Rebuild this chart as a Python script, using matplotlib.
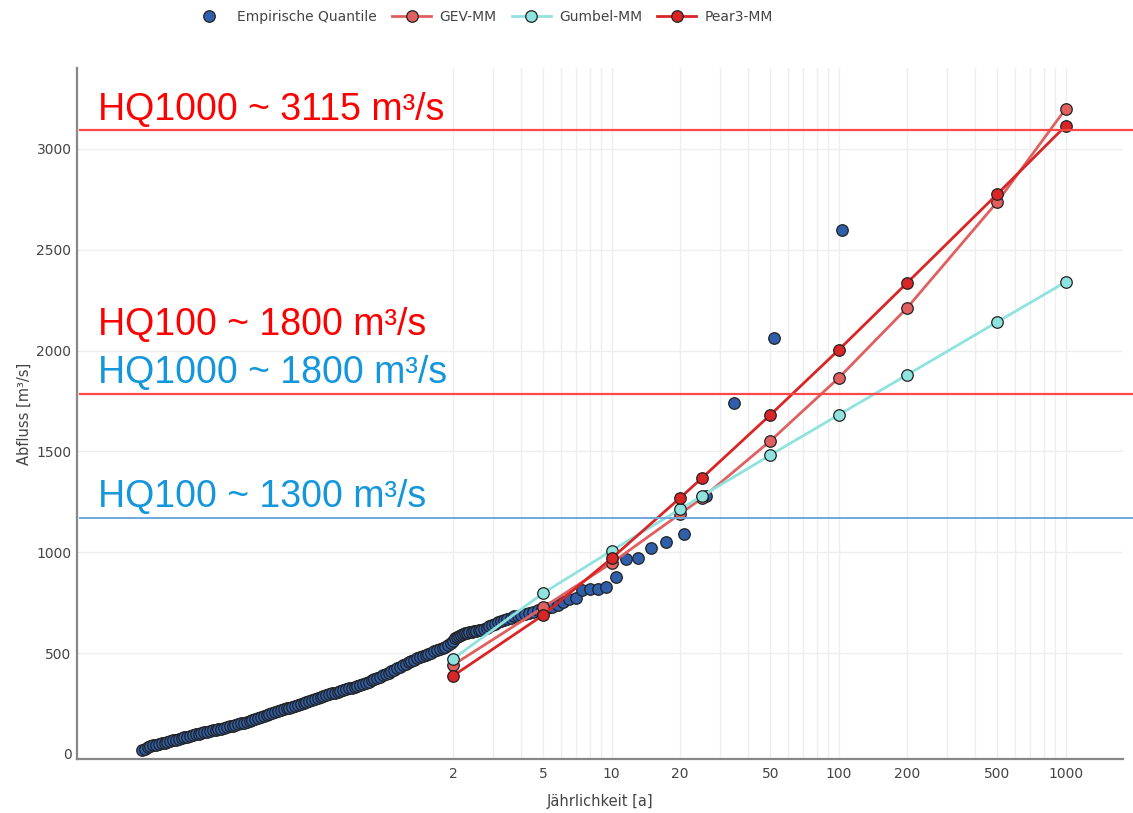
import matplotlib
matplotlib.use("Agg")
import matplotlib.pyplot as plt
from matplotlib.lines import Line2D

# ---------------- data ----------------
# empirical quantiles (return period [a], discharge [m3/s]) read from the chart
emp_T = [0.0851, 0.0876, 0.0902, 0.0928, 0.0955, 0.0983, 0.1012, 0.1041, 0.1072, 0.1103,
         0.1135, 0.1168, 0.1202, 0.1237, 0.1274, 0.1311, 0.1349, 0.1389, 0.1429, 0.1471,
         0.1514, 0.1558, 0.1603, 0.1650, 0.1698, 0.1748, 0.1799, 0.1851, 0.1905, 0.1961,
         0.2018, 0.2077, 0.2138, 0.2200, 0.2265, 0.2331, 0.2399, 0.2469, 0.2541, 0.2615,
         0.2692, 0.2770, 0.2851, 0.2934, 0.3020, 0.3108, 0.3199, 0.3292, 0.3388, 0.3487,
         0.3589, 0.3694, 0.3802, 0.3913, 0.4027, 0.4145, 0.4266, 0.4391, 0.4519, 0.4651,
         0.4786, 0.4926, 0.5070, 0.5218, 0.5370, 0.5527, 0.5689, 0.5855, 0.6026, 0.6202,
         0.6383, 0.6569, 0.6761, 0.6958, 0.7161, 0.7370, 0.7586, 0.7807, 0.8035, 0.8270,
         0.8511, 0.8760, 0.9016, 0.9279, 0.9550, 0.9829, 1.0116, 1.0412, 1.0715, 1.1029,
         1.135, 1.168, 1.202, 1.237, 1.274, 1.311, 1.349, 1.389, 1.429, 1.471,
         1.514, 1.558, 1.603, 1.650, 1.698, 1.748, 1.799, 1.852, 1.905, 1.952,
         2.0, 2.039, 2.08, 2.122, 2.167, 2.213, 2.261, 2.311, 2.364, 2.419,
         2.476, 2.537, 2.6, 2.667, 2.737, 2.811, 2.889, 2.971, 3.059, 3.152,
         3.25, 3.355, 3.467, 3.586, 3.714, 3.852, 4.0, 4.16, 4.333, 4.522,
         4.727, 4.952, 5.2, 5.474, 5.778, 6.118, 6.5, 6.933, 7.43, 8.0,
         8.67, 9.45, 10.4, 11.56, 13.0, 14.86, 17.33, 20.8, 26.0, 34.67,
         52.0, 104.0]
emp_Q = [20, 27, 33, 38, 42, 45, 48, 52, 55, 59,
         63, 67, 71, 75, 78, 82, 86, 90, 93, 97,
         101, 104, 107, 111, 114, 117, 120, 123, 126, 130,
         133, 137, 140, 144, 148, 152, 155, 159, 163, 167,
         171, 176, 181, 186, 191, 196, 201, 207, 212, 217,
         221, 226, 230, 235, 239, 244, 248, 253, 257, 262,
         267, 272, 276, 281, 285, 290, 295, 300, 304, 308,
         312, 316, 320, 325, 329, 333, 337, 343, 348, 354,
         359, 365, 370, 376, 382, 389, 395, 403, 410, 418,
         425, 433, 440, 447, 454, 461, 468, 474, 480, 486,
         492, 498, 503, 508, 513, 519, 524, 532, 540, 550,
         560, 575, 582, 587, 592, 596, 599, 602, 604, 606,
         608, 610, 613, 615, 620, 626, 632, 638, 645, 652,
         658, 664, 670, 676, 682, 686, 690, 694, 698, 703,
         712, 719, 724, 729, 740, 754, 768, 773, 813, 818,
         818, 828, 877, 967, 972, 1021, 1051, 1091, 1279, 1740,
         2062, 2598]

T_model = [2, 5, 10, 20, 25, 50, 100, 200, 500, 1000]
gev_mm = [441, 727, 947, 1190, 1268, 1552, 1864, 2211, 2737, 3198]
gumbel_mm = [471, 798, 1008, 1213, 1279, 1482, 1681, 1879, 2142, 2340]
pear3_mm = [387, 689, 970, 1269, 1368, 1681, 2003, 2335, 2776, 3114]

hlines_red = [3094, 1785]
hline_blue = 1172

annotations = [
    ("HQ1000 ~ 3115 m³/s", 0.9248, "#FF0000"),
    ("HQ100 ~ 1800 m³/s", 0.6136, "#FF0000"),
    ("HQ1000 ~ 1800 m³/s", 0.5441, "#1496DC"),
    ("HQ100 ~ 1300 m³/s", 0.3647, "#1496DC"),
]

major_x = [2, 5, 10, 20, 50, 100, 200, 500, 1000]
grid_x = [2, 3, 4, 5, 6, 7, 8, 9, 10, 20, 30, 40, 50, 60, 70, 80, 90,
          100, 200, 300, 400, 500, 600, 700, 800, 900, 1000]
y_ticks = [0, 500, 1000, 1500, 2000, 2500, 3000]

# ---------------- style ----------------
plt.rcParams['font.family'] = ['DejaVu Sans']
c_emp = "#2F5EAA"
c_gev = "#E06060"
c_gum = "#8FE3DF"
c_p3 = "#D92525"
edge = "#222222"

fig = plt.figure(figsize=(11.33, 8.13), dpi=100)
ax = fig.add_axes([77/1133, 54/813, 1046/1133, 691/813])

ax.set_xscale("log")
ax.set_xlim(0.0441, 1790)
ax.set_ylim(-25, 3401)

for gx in grid_x:
    ax.axvline(gx, color="#EEEEEE", lw=1, zorder=0)
for gy in y_ticks[1:]:
    ax.axhline(gy, color="#EEEEEE", lw=1, zorder=0)

ms = 8.3
mew = 0.9
ax.plot(emp_T, emp_Q, 'o', color=c_emp, ms=ms, mec=edge, mew=mew, zorder=3,
        label="Empirische Quantile")
ax.plot(T_model, gev_mm, '-o', color=c_gev, lw=2, ms=ms, mfc=c_gev, mec=edge, mew=mew,
        zorder=4, label="GEV-MM")
ax.plot(T_model, gumbel_mm, '-o', color=c_gum, lw=2, ms=ms, mfc=c_gum, mec=edge, mew=mew,
        zorder=5, label="Gumbel-MM")
ax.plot(T_model, pear3_mm, '-o', color=c_p3, lw=2, ms=ms, mfc=c_p3, mec=edge, mew=mew,
        zorder=6, label="Pear3-MM")

tr = ax.get_yaxis_transform()
for hv in hlines_red:
    ax.plot([0.003, 1.0096], [hv, hv], color="#FF4848", lw=1.6, transform=tr,
            clip_on=False, zorder=7)
ax.plot([0.003, 1.0096], [hline_blue, hline_blue], color="#6FA8DC", lw=1.4,
        transform=tr, clip_on=False, zorder=7)

for txt, yy, col in annotations:
    ax.text(0.020, yy, txt, transform=ax.transAxes, color=col, fontsize=27,
            family="Liberation Sans", va="baseline", ha="left", zorder=8)

ax.set_xticks(major_x)
ax.set_xticklabels([str(v) for v in major_x])
ax.set_xticks([], minor=True)
ax.set_yticks(y_ticks)
ax.set_yticklabels([str(v) for v in y_ticks])
ax.tick_params(axis='both', length=0, labelsize=10, colors="#444444")
ax.tick_params(axis='x', pad=6)
ax.tick_params(axis='y', pad=4)

for s in ["top", "right"]:
    ax.spines[s].set_visible(False)
for s in ["left", "bottom"]:
    ax.spines[s].set_color("#888888")
    ax.spines[s].set_linewidth(1.6)

ax.set_xlabel("Jährlichkeit [a]", fontsize=10.5, color="#444444", labelpad=9)
ax.set_ylabel("Abfluss [m³/s]", fontsize=10.5, color="#444444", labelpad=3)

handles = [
    Line2D([], [], ls='none', marker='o', color=c_emp, ms=ms, mec=edge, mew=mew),
    Line2D([], [], ls='-', lw=2, marker='o', color=c_gev, ms=ms, mec=edge, mew=mew),
    Line2D([], [], ls='-', lw=2, marker='o', color=c_gum, ms=ms, mec=edge, mew=mew),
    Line2D([], [], ls='-', lw=2, marker='o', color=c_p3, ms=ms, mec=edge, mew=mew),
]
labels = ["Empirische Quantile", "GEV-MM", "Gumbel-MM", "Pear3-MM"]
leg = fig.legend(handles, labels, loc="center", bbox_to_anchor=(0.425, 0.979), ncol=4,
                 frameon=False, fontsize=10, handlelength=2.8, columnspacing=1.1,
                 handletextpad=0.6, labelcolor="#444444")

fig.savefig("out.png", dpi=100)
